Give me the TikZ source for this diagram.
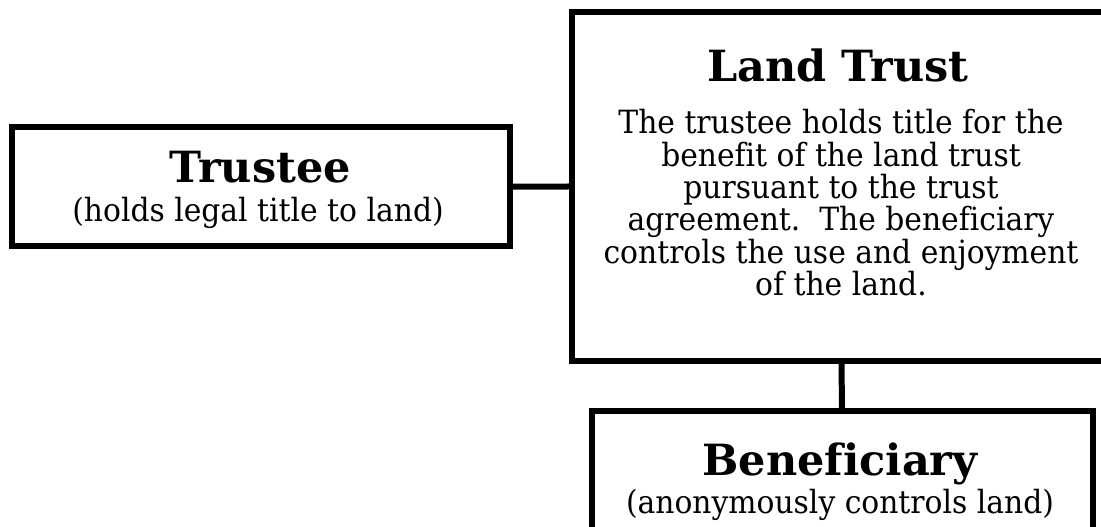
\documentclass[tikz,border=0pt]{standalone}
\usepackage{fontspec}
\setmainfont[Ligatures=NoCommon]{DejaVu Serif}
\newfontfamily\bodyfont[Ligatures=NoCommon, FakeStretch=0.93]{DejaVu Serif}
\begin{document}
\begin{tikzpicture}[x=1pt,y=1pt,
  box/.style={draw=black, line width=6pt, fill=white, rectangle, inner sep=0pt},
  link/.style={draw=black, line width=6pt},
  title/.style={anchor=base, inner sep=0pt, font=\fontsize{43}{48}\selectfont\bfseries},
  sub/.style={anchor=base, inner sep=0pt, font=\bodyfont\fontsize{32}{34}\selectfont}]
\useasboundingbox (0,0) rectangle (1101,527);
\clip (0,0) rectangle (1101,527);
\fill[white] (0,0) rectangle (1101,527);

% boxes
\node[box, minimum width=498.5pt, minimum height=119.5pt] (trustee) at (260.75,340.25) {};
\node[box, minimum width=539pt, minimum height=349pt] (landtrust) at (841.5,340.5) {};
\node[box, minimum width=501pt, minimum height=134pt] (benef) at (842,49) {};

% connectors
\draw[link] (trustee.east) -- (landtrust.west);
\draw[link] (landtrust.south) -- (benef.north);

% texts
\node[title] (t1) at (260,344) {Trustee};
\node[sub] (t2) at (258,305) {(holds legal title to land)};
\node[title] (l1) at (838,445) {Land Trust};
\node[sub] (l2) at (841,393) {The trustee holds title for the};
\node[sub] (l3) at (841,360.7) {benefit of the land trust};
\node[sub] (l4) at (841,328.3) {pursuant to the trust};
\node[sub] (l5) at (841,296) {agreement.\ \ The beneficiary};
\node[sub] (l6) at (841,263.7) {controls the use and enjoyment};
\node[sub] (l7) at (841,231.3) {of the land.};
\node[title] (b1) at (840,51) {Beneficiary};
\node[sub] (b2) at (840,13) {(anonymously controls land)};
\end{tikzpicture}
\end{document}
